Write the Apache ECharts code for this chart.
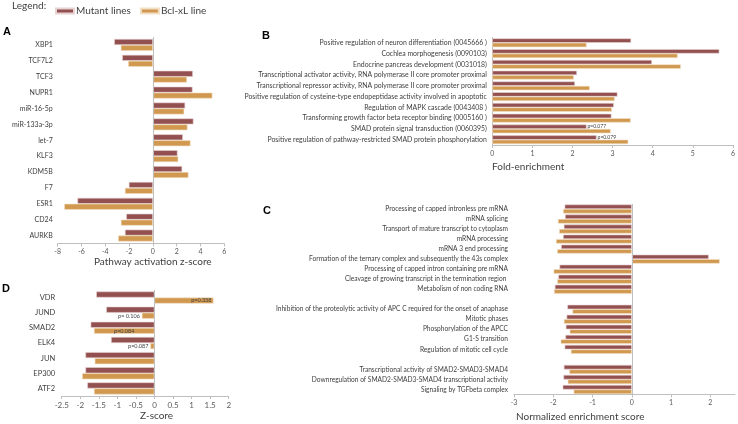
<!DOCTYPE html>
<html><head><meta charset="utf-8">
<script src="https://cdn.jsdelivr.net/npm/echarts@6/dist/echarts.min.js"></script>
<style>html,body{margin:0;padding:0;background:#fff}#c{width:738px;height:424px}</style>
</head><body><div id="c"></div>
<script>
// ---------- DATA ----------
const seriesNames = ['Mutant lines', 'Bcl-xL line'];

const catsA = ['XBP1','TCF7L2','TCF3','NUPR1','miR-16-5p','miR-133a-3p','let-7','KLF3','KDM5B','F7','ESR1','CD24','AURKB'];
const mutA  = [-3.25,-2.58,3.36,3.33,2.71,3.41,2.52,2.07,2.46,-2.02,-6.34,-2.24,-2.35];
const bclA  = [-2.70,-2.08,2.86,5.00,2.63,2.91,3.16,2.13,2.99,-2.35,-7.45,-2.69,-2.92];
const ticksA = [-8,-6,-4,-2,0,2,4,6];

const catsB = [
  'Positive regulation of neuron differentiation (0045666 )',
  'Cochlea morphogenesis (0090103)',
  'Endocrine pancreas development (0031018)',
  'Transcriptional activator activity, RNA polymerase II core promoter proximal',
  'Transcriptional repressor activity, RNA polymerase II core promoter proximal',
  'Positive regulation of cysteine-type endopeptidase activity involved in apoptotic',
  'Regulation of MAPK cascade (0043408 )',
  'Transforming growth factor beta receptor binding (0005160 )',
  'SMAD protein signal transduction (0060395)',
  'Positive regulation of pathway-restricted SMAD protein phosphorylation'];
const mutB = [3.46,5.66,3.98,2.11,2.06,3.12,3.03,2.97,2.35,2.60];
const bclB = [2.35,4.62,4.70,2.03,2.43,3.05,2.98,3.45,2.95,3.39];
const pB   = [null,null,null,null,null,null,null,null,'p=0.077','p=0.079'];
const ticksB = [0,1,2,3,4,5,6];

const catsC = [
  'Processing of capped intronless pre mRNA',
  'mRNA splicing',
  'Transport of mature transcript to cytoplasm',
  'mRNA processing',
  'mRNA 3 end processing',
  'Formation of the ternary complex and subsequently the 43s complex',
  'Processing of capped intron containing pre mRNA',
  'Cleavage of growing transcript in the termination region ',
  'Metabolism of non coding RNA',
  '',
  'Inhibition of the proteolytic activity of APC C required for the onset of anaphase',
  'Mitotic phases',
  'Phosphorylation of the APCC',
  'G1-S transition',
  'Regulation of mitotic cell cycle',
  ' ',
  'Transcriptional activity of SMAD2-SMAD3-SMAD4',
  'Downregulation of SMAD2-SMAD3-SMAD4 transcriptional activity',
  'Signaling by TGFbeta complex'];
const mutC = [-1.71,-1.70,-1.73,-1.75,-1.80,1.96,-1.84,-1.87,-1.96,null,-1.64,-1.66,-1.68,-1.69,-1.71,null,-1.73,-1.74,-1.76];
const bclC = [-1.75,-1.88,-1.85,-1.93,-1.90,2.24,-1.99,-1.90,-1.98,null,-1.51,-1.73,-1.58,-1.81,-1.55,null,-1.59,-1.63,-1.48];
const ticksC = [-3,-2,-1,0,1,2];

const catsD = ['VDR','JUND','SMAD2','ELK4','JUN','EP300','ATF2'];
const mutD  = [-1.57,-1.30,-1.72,-1.17,-1.86,-1.86,-1.81];
const bclD  = [1.59,-0.34,-1.63,-0.11,-1.61,-1.95,-1.63];
const pD    = ['p=0.338','p= 0.106','p=0.084','p=0.087',null,null,null];
const pDpos = ['insideRight','left','inside','left',null,null,null];
const ticksD = [-2.5,-2,-1.5,-1,-0.5,0,0.5,1,1.5,2];

// ---------- STYLE ----------
const FONT = 'Lato, "Open Sans", sans-serif';
const COL_M = '#935050';
const COL_B = '#D1994F';
const AX = '#bfbfbf';
const TXT = '#404040';

const chart = echarts.init(document.getElementById('c'), null, {renderer: 'canvas'});

function valueAxis(gi, min, max, interval, ticks, fs) {
  return {
    type: 'value', gridIndex: gi, min: min, max: max, interval: interval,
    splitLine: {show: false},
    axisLine: {show: true, onZero: false, lineStyle: {color: AX, width: 1}},
    axisTick: {show: true, length: 3, lineStyle: {color: AX}, customValues: ticks},
    axisLabel: {fontSize: fs, color: '#595959', fontFamily: FONT, margin: 5, customValues: ticks,
                formatter: v => String(v)}
  };
}
function catAxis(gi, cats, fs, margin, showLine) {
  return {
    type: 'category', gridIndex: gi, data: cats, inverse: true,
    axisLine: {show: showLine, onZero: false, lineStyle: {color: AX}},
    axisTick: {show: false},
    axisLabel: {fontSize: fs, color: TXT, fontFamily: FONT, margin: margin, interval: 0}
  };
}
function zeroLine() {
  return {silent: true, symbol: 'none', label: {show: false},
          lineStyle: {color: AX, type: 'solid', width: 1}, data: [{xAxis: 0}]};
}
function barSeries(name, gi, data, color, cat, extra) {
  const s = {
    name: name, type: 'bar', xAxisIndex: gi, yAxisIndex: gi, data: data,
    barGap: '0%', barCategoryGap: cat,
    itemStyle: {color: color, borderColor: name === seriesNames[0] ? '#e8d2d2' : '#f2dfc6', borderWidth: 0.6},
    emphasis: {disabled: true}, animation: false
  };
  return Object.assign(s, extra || {});
}

const labelB = mutB.map((v, i) => pB[i] ? {value: v, label: {show: true, position: 'right', distance: 1, formatter: pB[i], fontSize: 5, color: '#404040', fontFamily: FONT}} : v);
const labelD = bclD.map((v, i) => pD[i] ? {value: v, label: {show: true, position: pDpos[i], distance: 2, formatter: pD[i], fontSize: 5.5, color: '#404040', fontFamily: FONT}} : v);

const option = {
  backgroundColor: '#fff',
  animation: false,
  legend: {
    data: seriesNames, left: 50, top: 1, itemWidth: 18, itemHeight: 5, itemGap: 9,
    icon: 'rect', selectedMode: false,
    textStyle: {fontSize: 10, color: TXT, fontFamily: FONT, padding: [0, 0, 0, -3]}
  },
  grid: [
    {left: 57.7, top: 37, width: 166.6, height: 206.5},
    {left: 492.3, top: 37.4, width: 242, height: 107.7},
    {left: 514, top: 204, width: 221, height: 190.5},
    {left: 61.7, top: 290, width: 167, height: 106}
  ],
  xAxis: [
    valueAxis(0, -8, 6, 2, ticksA, 7),
    valueAxis(1, 0, 6, 1, ticksB, 7),
    valueAxis(2, -3, 2.63, 1, ticksC, 7),
    valueAxis(3, -2.5, 2, 0.5, ticksD, 8)
  ],
  yAxis: [
    catAxis(0, catsA, 7, 5, false),
    catAxis(1, catsB, 6.9, 5.5, true),
    catAxis(2, catsC, 6.6, 6, false),
    catAxis(3, catsD, 7.5, 6.5, false)
  ],
  series: [
    barSeries(seriesNames[0], 0, mutA, COL_M, '25%', {markLine: zeroLine()}),
    barSeries(seriesNames[1], 0, bclA, COL_B, '25%'),
    barSeries(seriesNames[0], 1, labelB, COL_M, '18%'),
    barSeries(seriesNames[1], 1, bclB, COL_B, '18%'),
    barSeries(seriesNames[0], 2, mutC, COL_M, '10%', {markLine: zeroLine()}),
    barSeries(seriesNames[1], 2, bclC, COL_B, '10%'),
    barSeries(seriesNames[0], 3, mutD, COL_M, '20%', {markLine: zeroLine()}),
    barSeries(seriesNames[1], 3, labelD, COL_B, '20%')
  ],
  graphic: [
    {type: 'text', left: 12, top: 1, style: {text: 'Legend:', font: '10px ' + FONT, fill: TXT}},
    {type: 'text', left: 3, top: 26, style: {text: 'A', font: 'bold 11px "Liberation Sans", Arial, sans-serif', fill: '#000'}},
    {type: 'text', left: 262, top: 30, style: {text: 'B', font: 'bold 11px "Liberation Sans", Arial, sans-serif', fill: '#000'}},
    {type: 'text', left: 263, top: 205, style: {text: 'C', font: 'bold 11px "Liberation Sans", Arial, sans-serif', fill: '#000'}},
    {type: 'text', left: 2, top: 283, style: {text: 'D', font: 'bold 11px "Liberation Sans", Arial, sans-serif', fill: '#000'}},
    {type: 'text', left: 94, top: 257, style: {text: 'Pathway activation z-score', font: '10px ' + FONT, fill: TXT}},
    {type: 'text', left: 492, top: 162, style: {text: 'Fold-enrichment', font: '10px ' + FONT, fill: TXT}},
    {type: 'text', left: 516, top: 412, style: {text: 'Normalized enrichment score', font: '10px ' + FONT, fill: TXT}},
    {type: 'text', left: 140, top: 411, style: {text: 'Z-score', font: '10px ' + FONT, fill: TXT}}
  ]
};
chart.setOption(option);
</script>
</body></html>
